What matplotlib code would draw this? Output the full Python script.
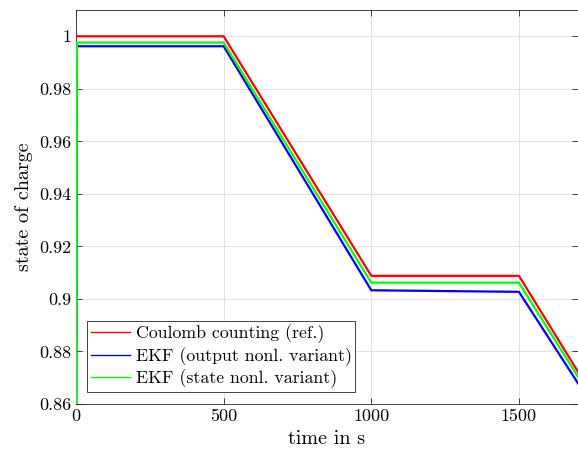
import matplotlib
matplotlib.use("Agg")
import matplotlib.pyplot as plt

# data
t = [0, 3, 500, 1000, 1500, 1700]
soc_ref = [1.0, 1.0, 1.0, 0.9088, 0.9088, 0.8723]
soc_ekf_out = [0.80, 0.9962, 0.9962, 0.9033, 0.9027, 0.8679]
soc_ekf_state = [0.80, 0.9976, 0.9976, 0.9062, 0.9062, 0.8704]

yticks = [0.86, 0.88, 0.90, 0.92, 0.94, 0.96, 0.98, 1.0]
ytick_labels = ["0.86", "0.88", "0.9", "0.92", "0.94", "0.96", "0.98", "1"]
xticks = [0, 500, 1000, 1500]

plt.rcParams["font.family"] = "cmr10"
plt.rcParams["mathtext.fontset"] = "cm"
plt.rcParams["axes.formatter.use_mathtext"] = True

fig = plt.figure(figsize=(5.78, 4.59), dpi=100)
ax = fig.add_axes([0.1315, 0.1198, 0.8685, 0.8584])

ax.plot(t, soc_ref, color="#ff0000", lw=1.6, zorder=3, label="Coulomb counting (ref.)")
ax.plot(t, soc_ekf_out, color="#0000ff", lw=1.6, zorder=3, label="EKF (output nonl. variant)")
ax.plot(t, soc_ekf_state, color="#00ff00", lw=1.6, zorder=3, label="EKF (state nonl. variant)")

ax.set_xlim(0, 1700)
ax.set_ylim(0.86, 1.01)
ax.set_xticks(xticks)
ax.set_xticklabels([str(x) for x in xticks])
ax.set_yticks(yticks)
ax.set_yticklabels(ytick_labels)
ax.tick_params(direction="in", top=True, right=True, labelsize=13,
               color="#262626", length=4, width=0.6)
ax.grid(True, color="#dcdcdc", lw=0.6)
for s in ax.spines.values():
    s.set_color("#262626")
    s.set_linewidth(0.6)

ax.set_xlabel("time in s", fontsize=14.5)
ax.set_ylabel("state of charge", fontsize=14.5)

leg = ax.legend(loc="lower left", bbox_to_anchor=(0.022, 0.031), fontsize=12.8,
                fancybox=False, edgecolor="#262626", framealpha=1,
                borderpad=0.2, labelspacing=0.22, handlelength=2.2,
                handletextpad=0.35, borderaxespad=0)
leg.set_zorder(5)
leg.get_frame().set_linewidth(0.6)
for h in leg.get_lines():
    h.set_linewidth(1.0)

fig.savefig("out.png", dpi=100)
